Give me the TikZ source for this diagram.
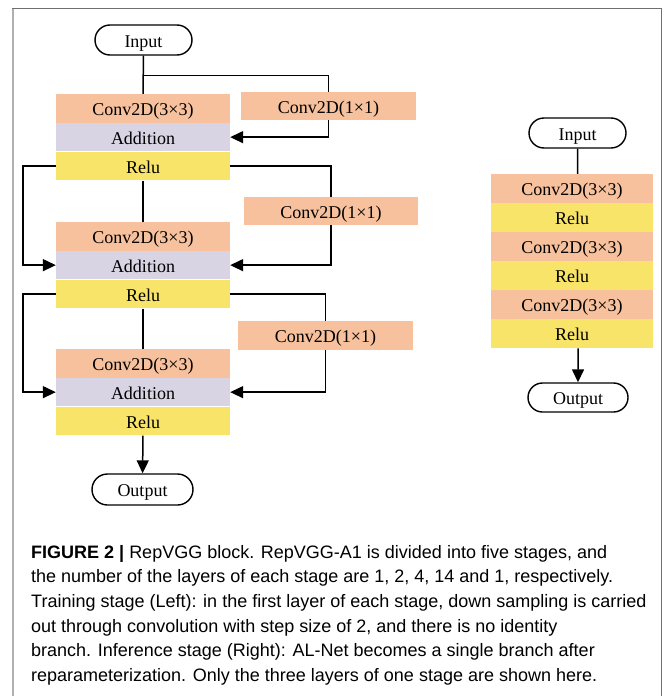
\documentclass[tikz,border=0pt]{standalone}
\usepackage{fontspec}
\setmainfont{Liberation Serif}
\newfontfamily\capfont{Liberation Sans}
\usetikzlibrary{arrows.meta,positioning,shapes.misc}

\definecolor{convcolor}{RGB}{246,193,156}
\definecolor{addcolor}{RGB}{217,212,228}
\definecolor{relucolor}{RGB}{248,228,104}
\definecolor{framegray}{RGB}{112,112,112}
\definecolor{framelight}{RGB}{176,176,176}

\tikzset{
  layer/.style={minimum height=28.5pt, inner sep=0pt, text height=15pt, text depth=1pt,
    font=\fontsize{18}{20}\selectfont},
  conv/.style={layer, fill=convcolor},
  addit/.style={layer, fill=addcolor},
  relu/.style={layer, fill=relucolor},
  terminal/.style={draw, rounded rectangle, line width=1.4pt, minimum width=97pt,
    minimum height=30pt, inner sep=0pt, text height=15pt, text depth=1pt,
    font=\fontsize{18}{20}\selectfont},
  link/.style={line width=1.5pt},
  arr/.style={link, -{Triangle[length=13pt,width=12pt]}},
  capline/.style={anchor=base west, inner sep=0pt, font=\capfont\fontsize{18}{24}\selectfont}
}

\begin{document}
\begin{tikzpicture}[x=1pt, y=-1pt]
    \useasboundingbox (0,0) rectangle (665,696);

    % Marco
    \draw[framelight, line width=2pt] (13,696) -- (13,8.3);
    \draw[framegray, line width=1.3pt] (12,8.3) -- (661.5,8.3) -- (661.5,696);

    % Etapa de entrenamiento (izquierda)
    \node[terminal] (in1) at (143.5,40) {Input};
    \foreach \n/\y in {1/94,2/222,3/349} {
        \node[conv, minimum width=174pt] (conv\n) at (143,\y+14.25) {Conv2D(3×3)};
        \node[addit, minimum width=174pt, below=0pt of conv\n] (add\n) {Addition};
        \node[relu, minimum width=174pt, below=0pt of add\n] (relu\n) {Relu};
    }
    \node[conv, minimum width=175pt] (k1) at (328.5,106) {Conv2D(1×1)};
    \node[conv, minimum width=174pt] (k2) at (331,211) {Conv2D(1×1)};
    \node[conv, minimum width=175pt] (k3) at (325.5,335.5) {Conv2D(1×1)};
    \node[terminal, minimum width=101pt, minimum height=31pt] (out1) at (142.5,489.5) {Output};

    % Conexiones
    \coordinate (br1) at (143,75.7);
    \draw[link] (in1) -- (conv1);
    \draw[link] (br1) -| (k1.north);
    \draw[arr] (k1.south) |- (add1.east);
    \foreach \a/\b in {1/2,2/3} {
        \draw[link] (relu\a) -- (conv\b);
        \draw[link] (relu\a.east) -| (k\b.north);
        \draw[arr] (k\b.south) |- (add\b.east);
        \draw[arr] (relu\a.west) -- ++(-33,0) |- (add\b.west);
    }
    \draw[arr] (relu3) -- (out1);

    % Etapa de inferencia (derecha)
    \node[terminal] (in2) at (577.5,133) {Input};
    \node[conv, minimum width=162pt, minimum height=28.7pt] (r1) at (572,188.3) {Conv2D(3×3)};
    \node[relu, minimum width=162pt, minimum height=28.7pt, below=0pt of r1] (r2) {Relu};
    \node[conv, minimum width=162pt, minimum height=28.7pt, below=0pt of r2] (r3) {Conv2D(3×3)};
    \node[relu, minimum width=162pt, minimum height=28.7pt, below=0pt of r3] (r4) {Relu};
    \node[conv, minimum width=162pt, minimum height=28.7pt, below=0pt of r4] (r5) {Conv2D(3×3)};
    \node[relu, minimum width=162pt, minimum height=28.7pt, below=0pt of r5] (r6) {Relu};
    \node[terminal, minimum width=100pt, minimum height=29pt] (out2) at (578,397.5) {Output};
    \draw[link] (in2) -- (in2 |- r1.north);
    \draw[arr] (out2 |- r6.south) -- (out2);

    % Leyenda
    \node[capline] (cap1) at (31,558.3) {\textbf{FIGURE 2 |} RepVGG block. RepVGG-A1 is divided into five stages, and};
    \node[capline] (cap2) at (31,582.9) {the number of the layers of each stage are 1, 2, 4, 14 and 1, respectively.};
    \node[capline] (cap3) at (31,607.5) {Training stage (Left): in the first layer of each stage, down sampling is carried};
    \node[capline] (cap4) at (31,632.1) {out through convolution with step size of 2, and there is no identity};
    \node[capline] (cap5) at (31,656.7) {branch. Inference stage (Right): AL-Net becomes a single branch after};
    \node[capline] (cap6) at (31,681.3) {reparameterization. Only the three layers of one stage are shown here.};
\end{tikzpicture}
\end{document}
